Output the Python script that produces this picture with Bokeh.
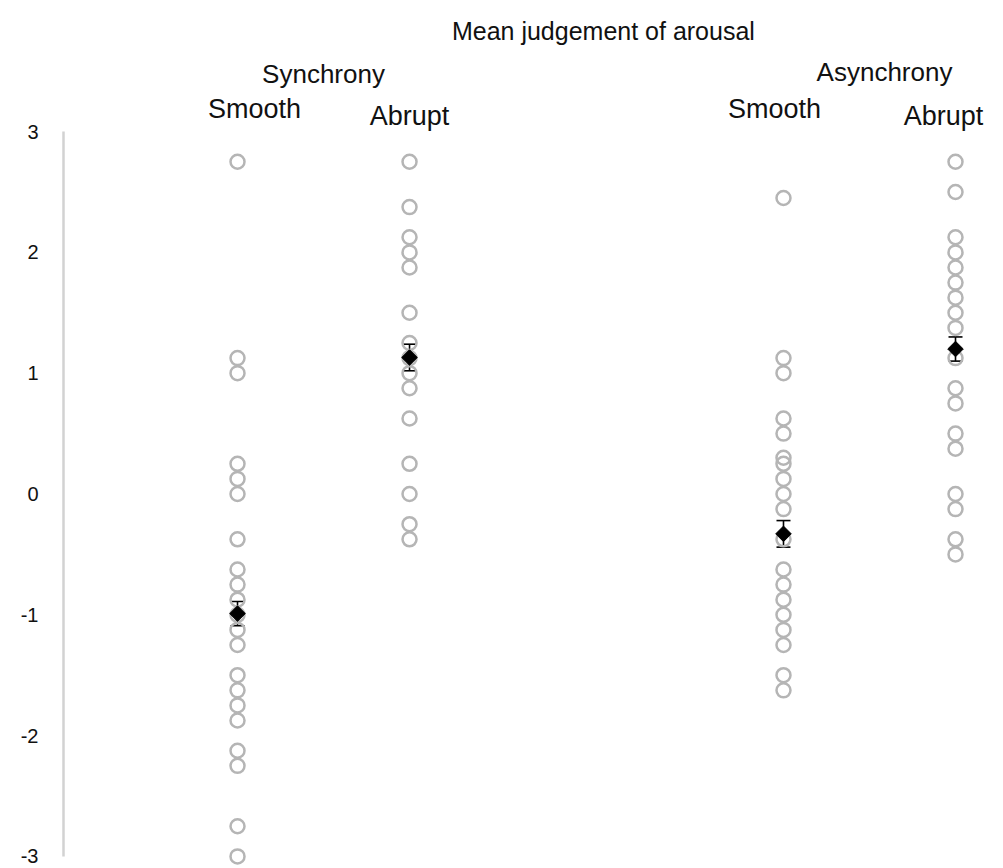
import numpy as np
from bokeh.plotting import figure
from bokeh.models import Range1d, LinearAxis, FixedTicker, ColumnDataSource, Whisker, TeeHead
from bokeh.core.properties import value
from bokeh.embed import file_html
from bokeh.resources import INLINE

# ---------------- data ----------------
title = "Mean judgement of arousal"
groups = ["Synchrony", "Asynchrony"]
conditions = ["Smooth", "Abrupt"]

sync_smooth = [2.75, 1.125, 1.0, 0.25, 0.125, 0.0, -0.375, -0.625, -0.75, -0.875, -1.0,
               -1.125, -1.25, -1.5, -1.625, -1.75, -1.875, -2.125, -2.25, -2.75, -3.0]
sync_abrupt = [2.75, 2.375, 2.125, 2.0, 1.875, 1.5, 1.25, 1.125, 1.0, 0.875, 0.625,
               0.25, 0.0, -0.25, -0.375]
async_smooth = [2.45, 1.125, 1.0, 0.625, 0.5, 0.3, 0.25, 0.125, 0.0, -0.125, -0.375,
                -0.625, -0.75, -0.875, -1.0, -1.125, -1.25, -1.5, -1.625]
async_abrupt = [2.75, 2.5, 2.125, 2.0, 1.875, 1.75, 1.625, 1.5, 1.375, 1.125, 0.875,
                0.75, 0.5, 0.375, 0.0, -0.125, -0.375, -0.5]
means = [-0.99, 1.13, -0.33, 1.20]
errors = [0.10, 0.11, 0.11, 0.10]
y_ticks = [-3, -2, -1, 0, 1, 2, 3]

series = [sync_smooth, sync_abrupt, async_smooth, async_abrupt]

# ---------------- layout ----------------
GROUP_GAP = 1.174
FONT = "Liberation Sans"


def pos(gi, ci):
    return gi * (len(conditions) + GROUP_GAP) + ci


cells = [(gi, ci) for gi in range(len(groups)) for ci in range(len(conditions))]
xpos = [pos(gi, ci) for gi, ci in cells]

Y_TOP = 4.085
p = figure(width=1003, height=868, x_range=Range1d(-1.0116, 4.453),
           y_range=Range1d(-3.100, Y_TOP), x_axis_type=None, y_axis_type=None,
           toolbar_location=None, output_backend="svg",
           min_border_left=63, min_border_right=0, min_border_top=0, min_border_bottom=0)
p.outline_line_color = None
p.xgrid.visible = False
p.ygrid.visible = False
p.background_fill_color = "white"
p.border_fill_color = "white"

yaxis = LinearAxis(ticker=FixedTicker(ticks=y_ticks), bounds=(-3, 3))
yaxis.axis_line_color = "#d2d2d2"
yaxis.axis_line_width = 2.5
yaxis.major_tick_line_color = None
yaxis.minor_tick_line_color = None
yaxis.major_tick_out = 0
yaxis.major_tick_in = 0
yaxis.major_label_standoff = 25
yaxis.major_label_text_font = FONT
yaxis.major_label_text_font_size = "20px"
yaxis.major_label_text_color = "#111111"
yaxis.major_label_overrides = {t: str(t) for t in y_ticks}
p.add_layout(yaxis, "left")

# individual points
px, py = [], []
for x, vals in zip(xpos, series):
    px += [x] * len(vals)
    py += vals
p.scatter(px, py, marker="circle", size=14, fill_color=None,
          line_color="#b5b5b5", line_width=2.5)

# means with error bars
msrc = ColumnDataSource(dict(x=xpos, m=means,
                             lower=[m - e for m, e in zip(means, errors)],
                             upper=[m + e for m, e in zip(means, errors)]))
w = Whisker(base="x", lower="lower", upper="upper", source=msrc,
            line_color="black", line_width=1.6,
            upper_head=TeeHead(size=14, line_color="black", line_width=1.6),
            lower_head=TeeHead(size=14, line_color="black", line_width=1.6))
p.add_layout(w)
p.scatter("x", "m", source=msrc, marker="square", angle=np.pi / 4, size=11,
          fill_color="black", line_color="black")

# header texts
p.text(x=[(xpos[0] + xpos[-1]) / 2 + 0.04], y=[Y_TOP], text=[title],
       y_offset=[30], text_font=value(FONT), text_font_size="25px",
       text_align="center", text_baseline="alphabetic", text_color="#111111")

gx = [(pos(gi, 0) + pos(gi, len(conditions) - 1)) / 2 for gi in range(len(groups))]
p.text(x=gx, y=[Y_TOP] * len(groups), text=groups,
       x_offset=[0, 15], y_offset=[73, 71], text_font=value(FONT), text_font_size="26px",
       text_align="center", text_baseline="alphabetic", text_color="#111111")

p.text(x=xpos, y=[Y_TOP] * len(xpos), text=[conditions[ci] for gi, ci in cells],
       x_offset=[17, 0, -9, -12], y_offset=[108, 115, 108, 115],
       text_font=value(FONT), text_font_size="27px",
       text_align="center", text_baseline="alphabetic", text_color="#111111")

open("out.html", "w").write(file_html(p, INLINE))
